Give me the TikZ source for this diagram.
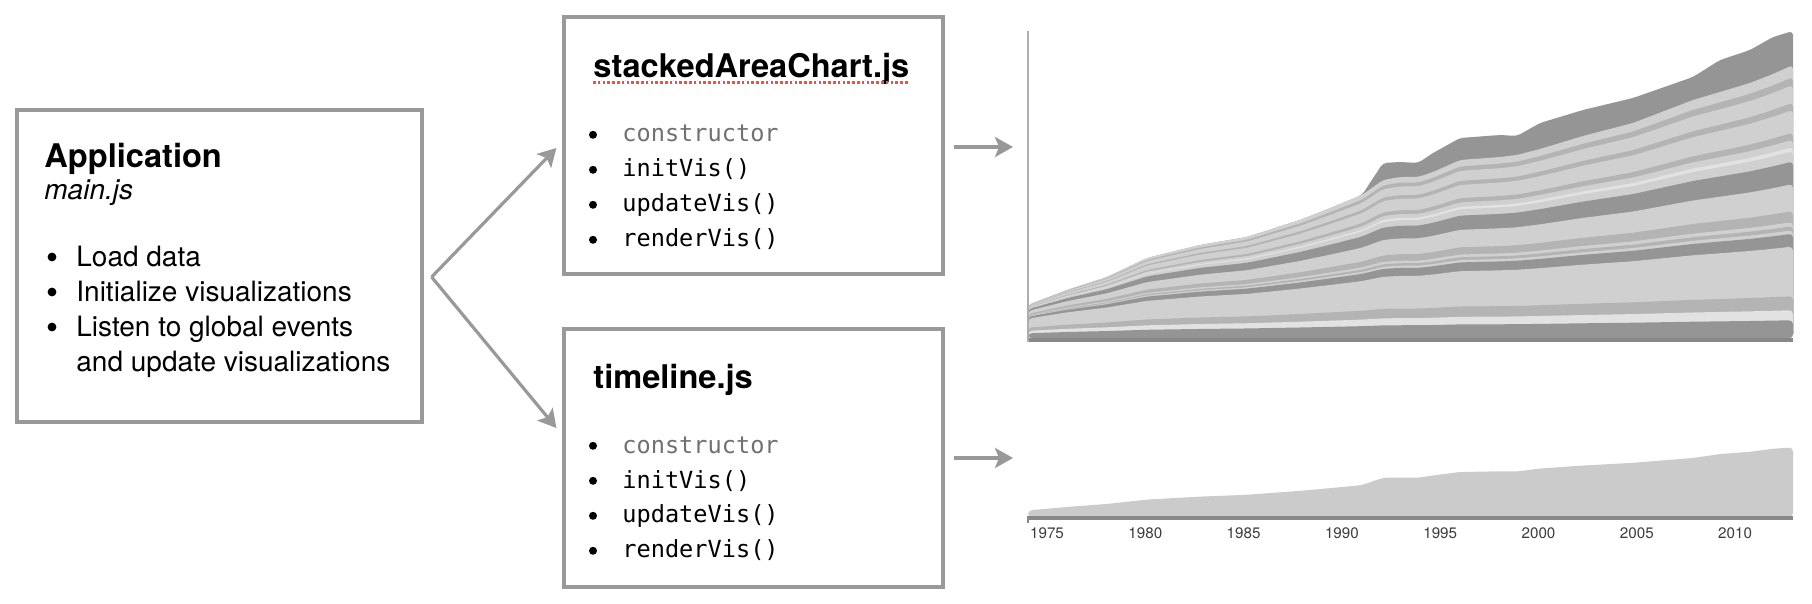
\documentclass[tikz,border=0pt]{standalone}
\usepackage{fontspec}
\setmainfont{TeX Gyre Heros}
\setmonofont{DejaVu Sans Mono}
\usepackage{tikz}
\usetikzlibrary{arrows.meta,positioning}
\definecolor{framegray}{RGB}{153,153,153}
\definecolor{labelgray}{RGB}{112,112,112}
\definecolor{spellred}{RGB}{232,84,66}
\definecolor{banddark}{RGB}{149,149,149}
\definecolor{bandmid}{RGB}{180,180,180}
\definecolor{bandlight}{RGB}{208,208,208}
\definecolor{bandwhite}{RGB}{226,226,226}
\definecolor{areagray}{RGB}{203,203,203}
\definecolor{axisgray}{RGB}{136,136,136}
\definecolor{yeargray}{RGB}{60,60,60}

% x / top of lower layers / top of all layers (px)
\newcommand{\toplist}{1028/305/305, 1067/290/290, 1107/277/277, 1147/258/258,
  1200/245/245, 1247/237/237, 1300/220/220, 1333/207/207, 1362/195/195,
  1383/180/163, 1400/177/162, 1418/177/163, 1433/172/153, 1460/160/138,
  1500/157/135, 1517/155/136, 1540/149/123, 1583/136/110, 1633/123/98,
  1693/100/77, 1720/92/60, 1750/83/50, 1773/74/37, 1793/65/31}

\begin{document}
\begin{tikzpicture}[
    x=0.5pt, y=-0.5pt,
    box/.style={
      rectangle, draw=framegray, line width=1.6pt, fill=white
    },
    title/.style={anchor=base west, inner sep=0pt, font=\bfseries\fontsize{16.3}{18}\selectfont},
    itemline/.style={anchor=base west, inner sep=0pt, font=\fontsize{14}{16}\selectfont},
    codeline/.style={anchor=base west, inner sep=0pt, font=\ttfamily\fontsize{11.8}{14}\selectfont},
    yearlabel/.style={inner sep=0pt, text=yeargray, font=\fontsize{7.6}{8}\selectfont},
    arrow/.style={-{Stealth[length=9pt,width=10pt,inset=2pt]}, line width=1.6pt, draw=framegray}
  ]
    \useasboundingbox (0,0) rectangle (1812,604);

    % boxes
    \node[box, minimum width=202.5pt, minimum height=156pt] (app) at (219.5,266) {};
    \node[box, minimum width=189.5pt, minimum height=128.5pt] (chart) at (753.5,145.5) {};
    \node[box, minimum width=189.5pt, minimum height=129pt, below=25.9pt of chart] (time) {};

    % application text
    \node[title] (apptitle) at (44,168) {Application};
    \node[itemline] (appfile) at (44,200) {\itshape main.js};
    \foreach \txt [count=\i] in {Load data, Initialize visualizations, Listen to global events} {
      \node[itemline] (appitem\i) at (47,{232+35*\i}) {\hspace*{14.5pt}\txt};
      \fill ([xshift=2.5pt,yshift=5pt]appitem\i.base west) circle (2.2pt);
    }
    \node[itemline] (appitem4) at (76,372) {and update visualizations};

    % component boxes
    \node[title] (charttitle) at (593,78) {stackedAreaChart.js};
    \draw[spellred, line width=1.3pt, dash pattern=on 1.3pt off 1.1pt]
      ([yshift=-2.3pt]charttitle.base west) -- ([yshift=-2.3pt]charttitle.base east);
    \node[title] (timetitle) at (593,389) {timeline.js};
    \foreach \b/\yb in {chart/142, time/453} {
      \node[codeline] (\b cons) at (588,\yb) {\hspace*{17pt}{\color{labelgray}constructor}};
      \fill ([xshift=2.5pt,yshift=3.6pt]\b cons.base west) circle (2pt);
      \foreach \m [count=\i] in {initVis(), updateVis(), renderVis()} {
        \node[codeline] (\b fn\i) at (588,{\yb+35*\i}) {\hspace*{17pt}\m};
        \fill ([xshift=2.5pt,yshift=3.6pt]\b fn\i.base west) circle (2pt);
      }
    }

    % connectors
    \coordinate (fork) at ([xshift=4pt,yshift=-5.5pt]app.east);
    \coordinate (areatip) at (1013,147);
    \coordinate (linetip) at (1013,458);
    \draw[arrow] (fork) -- ([xshift=-3pt,yshift=-1.25pt]chart.west);
    \draw[arrow] (fork) -- ([xshift=-3pt,yshift=15pt]time.west);
    \draw[arrow] ([xshift=4.5pt,yshift=-0.75pt]chart.east) -- (areatip);
    \draw[arrow] ([xshift=4.5pt]time.east) -- (linetip);

    % stacked area chart
    \fill[banddark, rounded corners=2pt] (1028,338) \foreach \px/\pb/\pa in \toplist {-- (\px,\pa)} -- (1793,338) -- cycle;
    \foreach \share/\bandcol in {1.000/bandlight, 0.956/bandmid, 0.927/bandlight, 0.862/bandmid,
        0.836/bandlight, 0.753/bandmid, 0.727/bandlight, 0.700/bandwhite, 0.685/bandlight,
        0.647/banddark, 0.564/bandlight, 0.465/bandmid, 0.425/bandlight, 0.410/bandmid,
        0.395/bandlight, 0.382/banddark, 0.335/bandlight, 0.153/bandmid, 0.102/bandwhite,
        0.065/banddark}
      \fill[fill=\bandcol, rounded corners=2pt] (1028,338) \foreach \px/\pb/\pa in \toplist
        {-- (\px,{338-\share*273*pow((338-\pb)/273,0.6+0.4*\share)})} -- (1793,338) -- cycle;
    \draw[axisgray, line width=2pt] (1028,340) -- (1793,340);
    \draw[framegray!80, line width=0.8pt] (1028,31) -- (1028,342);

    % timeline
    \fill[areagray, rounded corners=2pt] (1028,517) \foreach \px/\pb/\pa in \toplist {-- (\px,{518-0.23*(338-\pa)})} -- (1793,517) -- cycle;
    \draw[axisgray, line width=2pt] (1028,518) -- (1793,518);
    \draw[axisgray, line width=1pt] (1028,516) -- (1028,523);
    \foreach \yr [count=\k from 0] in {1975,1980,1985,1990,1995,2000,2005,2010}
      \node[yearlabel] (yr\yr) at ({1047+98.3*\k},533) {\yr};
  \end{tikzpicture}
\end{document}
